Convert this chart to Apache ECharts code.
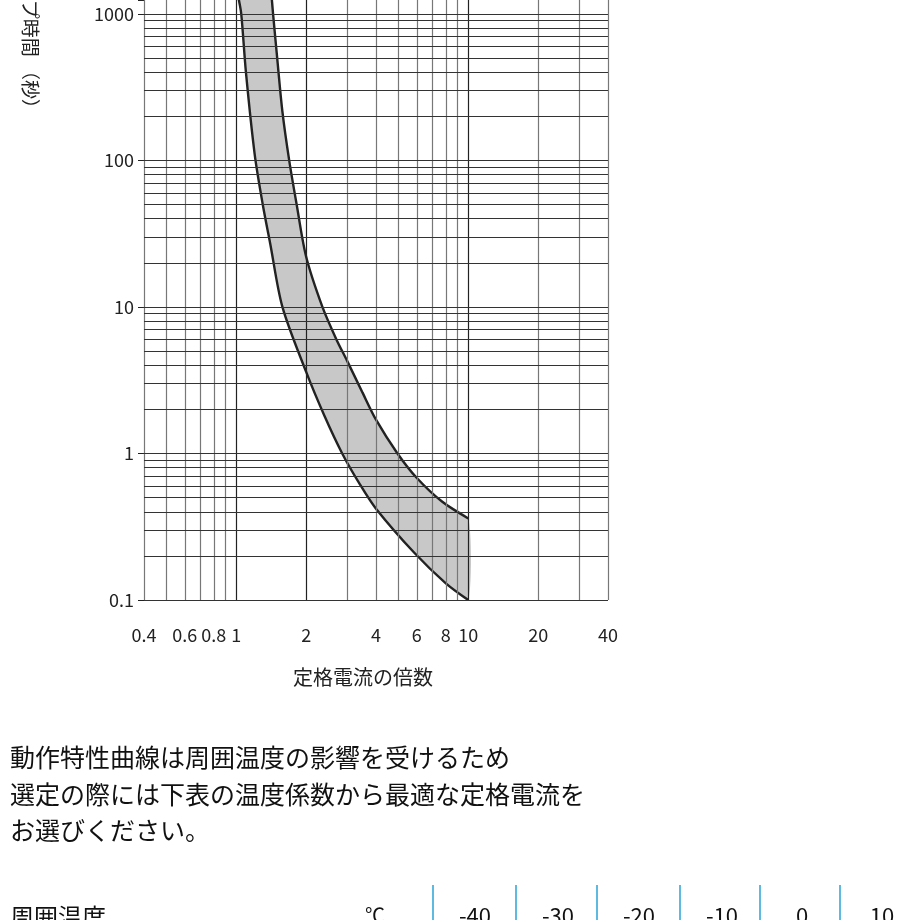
<!DOCTYPE html>
<html><head><meta charset="utf-8">
<script src="https://cdn.jsdelivr.net/npm/echarts@6/dist/echarts.min.js"></script>
<style>html,body{margin:0;padding:0;background:#fff}#c{width:920px;height:920px}</style>
</head><body><div id="c"></div>
<script>
var xGrid = [0.4,0.5,0.6,0.7,0.8,0.9,1,2,3,4,5,6,7,8,9,10,20,30,40];
var xLabels = [0.4,0.6,0.8,1,2,4,6,8,10,20,40];
var xMajor = [1,2,10];
var yGrid = [];
[0.1,1,10,100,1000].forEach(function(d){ for (var k=1;k<10;k++) yGrid.push(+(d*k).toPrecision(2)); });
var upperCurve = [[1.42,1300],[1.44,1000],[1.5,500],[1.58,215],[1.69,100],[1.82,50],[2.0,22],[2.35,10],[2.7,6],[3,4.3],[3.5,2.6],[4,1.7],[4.95,1.0],[6,0.68],[7.7,0.47],[10,0.36]];
var lowerCurve = [[1.02,1300],[1.05,1000],[1.1,400],[1.2,110],[1.3,50],[1.4,27],[1.58,10],[2,3.6],[2.4,1.8],[2.86,1],[3.4,0.62],[4,0.42],[5.85,0.21],[8,0.13],[10,0.1]];
var tempHeaders = ['-40','-30','-20','-10','0','10'];

var font = '"Noto Sans CJK JP", "Noto Sans", sans-serif';
var chart = echarts.init(document.getElementById('c'));

var vLines = xGrid.map(function(v){
  var lab = xLabels.indexOf(v) >= 0;
  return {
    xAxis: v,
    lineStyle: {color: xMajor.indexOf(v) >= 0 ? '#222' : '#777', width: 1.2, type: 'solid'},
    label: {show: lab, position: 'start', distance: 26, formatter: String(v),
            fontSize: 18, color: '#222', fontFamily: font}
  };
});
var hLines = yGrid.map(function(v){
  return {yAxis: v, lineStyle: {color: '#333', width: 1.2, type: 'solid'}, label: {show: false}};
});

var band = upperCurve.concat(lowerCurve.slice().reverse());

chart.setOption({
  animation: false,
  grid: {left: 144, right: 312, top: 0, bottom: 320, containLabel: false},
  xAxis: {type: 'log', min: 0.4, max: 40, logBase: 10,
    axisLine: {show: false}, axisTick: {show: false}, axisLabel: {show: false}, splitLine: {show: false}},
  yAxis: {type: 'log', min: 0.1, max: 1243, logBase: 10,
    axisLine: {show: false}, axisTick: {show: true, length: 6, lineStyle: {color: '#222'}},
    axisLabel: {color: '#222', fontSize: 18, fontFamily: font, margin: 10,
      formatter: function(v){ return v > 1000 ? '' : String(v); }},
    splitLine: {show: false}},
  series: [
    {type: 'custom', clip: true, z: 1,
      renderItem: function(params, api){
        var pts = band.map(function(p){ return api.coord(p); });
        return {type: 'polygon', shape: {points: pts, smooth: 0.2}, style: {fill: '#c8c8c8', stroke: null}};
      },
      data: [0]
    },
    {type: 'line', data: [], z: 2, silent: true,
      markLine: {symbol: 'none', silent: true, animation: false, data: vLines.concat(hLines)}},
    {type: 'line', data: upperCurve, smooth: 0.3, symbol: 'none', z: 3, clip: true,
      lineStyle: {color: '#222', width: 2.4}},
    {type: 'line', data: lowerCurve, smooth: 0.3, symbol: 'none', z: 3, clip: true,
      lineStyle: {color: '#222', width: 2.4}}
  ],
  graphic: [
    {type: 'text', position: [40, 118], rotation: -Math.PI/2, originX: 0, originY: 0,
      style: {text: 'トリップ時間 （秒）', font: '19px ' + font, fill: '#222', align: 'right', verticalAlign: 'top'}},
    {type: 'text', left: 293, top: 667, style: {text: '定格電流の倍数', font: '20px ' + font, fill: '#222'}},
    {type: 'text', left: 10, top: 745, style: {text: '動作特性曲線は周囲温度の影響を受けるため', font: '25px ' + font, fill: '#111'}},
    {type: 'text', left: 10, top: 782, style: {text: '選定の際には下表の温度係数から最適な定格電流を', font: '25px ' + font, fill: '#111'}},
    {type: 'text', left: 10, top: 818, style: {text: 'お選びください。', font: '25px ' + font, fill: '#111'}},
    {type: 'text', left: 10, top: 905, style: {text: '周囲温度', font: '24px ' + font, fill: '#111'}},
    {type: 'text', left: 365, top: 905, style: {text: '℃', font: '20px ' + font, fill: '#111'}}
  ].concat(tempHeaders.map(function(t, i){
    var x0 = [433,516,597,680,760,840][i];
    return {type: 'group', children: [
      {type: 'line', shape: {x1: x0, y1: 885, x2: x0, y2: 920}, style: {stroke: '#29a3d6', lineWidth: 1.5}},
      {type: 'text', x: x0 + 42, y: 905, style: {text: t, font: '22px ' + font, fill: '#111', align: 'center'}}
    ]};
  }))
});
</script></body></html>
